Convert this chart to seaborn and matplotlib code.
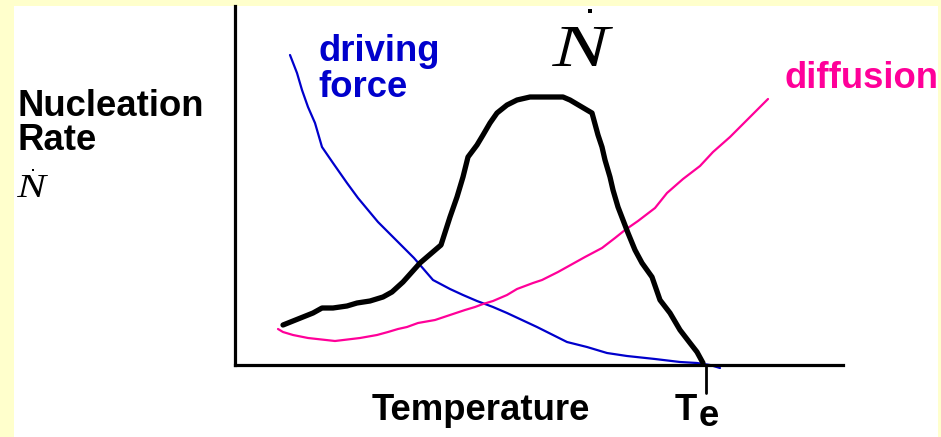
import numpy as np
import pandas as pd
import matplotlib
matplotlib.use("Agg")
import matplotlib.pyplot as plt
from matplotlib.patches import Rectangle, PathPatch
from matplotlib.textpath import TextPath
from matplotlib.font_manager import FontProperties
from matplotlib.transforms import Affine2D
import seaborn as sns

# Curves in arbitrary units (temperature on x, rate on y)
nucleation_T = [48, 58, 68, 78, 87, 98, 112, 122, 135, 148, 157, 168, 185, 206,
                215, 222, 228, 233, 242, 248, 255, 262, 272, 282, 295, 328, 335,
                357, 363, 367, 370, 375, 378, 383, 388, 393, 400, 407, 417, 425,
                435, 445, 455, 462, 468]
nucleation_rate = [40, 44, 48, 52, 57, 57, 59, 62, 64, 68, 73, 83, 102, 120,
                   148, 168, 188, 208, 220, 230, 242, 252, 260, 265, 268, 268, 265,
                   252, 230, 218, 205, 188, 175, 158, 145, 132, 115, 102, 88, 65,
                   52, 35, 22, 13, 2]

driving_T = [55, 62, 67, 73, 80, 87, 98, 112, 123, 143, 161, 179, 198, 215, 228,
             242, 258, 272, 287, 302, 318, 332, 352, 372, 392, 420, 445, 462, 475, 485]
driving_force = [310, 292, 275, 258, 242, 218, 202, 182, 167, 143, 125, 107, 85, 76, 70,
                 64, 58, 52, 45, 38, 30, 23, 18, 12, 9, 6, 3, 2, 0, -3]

diffusion_T = [43, 48, 58, 73, 100, 125, 142, 153, 163, 172, 183, 200, 215, 230, 240,
               248, 258, 272, 282, 298, 307, 323, 350, 367, 380, 390, 403, 420, 432,
               448, 465, 478, 495, 512, 533]
diffusion_rate = [36, 33, 30, 27, 24, 27, 30, 33, 36, 38, 42, 45, 50, 55, 58,
                  61, 64, 70, 76, 82, 85, 93, 108, 117, 127, 135, 144, 157, 172,
                  186, 199, 213, 228, 245, 266]

T_eq = 471

W, H = 941, 437
sns.set_style("white")
plt.rcParams["font.family"] = ["Liberation Sans", "DejaVu Sans"]

fig = plt.figure(figsize=(W / 100, H / 100), dpi=100, facecolor="#FFFFCC")
fig.patches.append(Rectangle((14 / W, 0), 924 / W, 431 / H, transform=fig.transFigure,
                             facecolor="white", edgecolor="none", zorder=-5))

ax = fig.add_axes([235 / W, (H - 365) / H, (843 - 235) / W, (365 - 6) / H])
ax.set_facecolor("none")
ax.set_zorder(2)
ax.set_xlim(0, 608)
ax.set_ylim(0, 359)

df_n = pd.DataFrame({"T": nucleation_T, "rate": nucleation_rate})
df_d = pd.DataFrame({"T": driving_T, "rate": driving_force})
df_f = pd.DataFrame({"T": diffusion_T, "rate": diffusion_rate})

sns.lineplot(data=df_d, x="T", y="rate", sort=False, estimator=None, ax=ax,
             color="#0000CC", linewidth=1.6, clip_on=False)
sns.lineplot(data=df_f, x="T", y="rate", sort=False, estimator=None, ax=ax,
             color="#FF0099", linewidth=1.6, clip_on=False)
sns.lineplot(data=df_n, x="T", y="rate", sort=False, estimator=None, ax=ax,
             color="black", linewidth=3.8, clip_on=False)

# Equilibrium temperature tick below the axis
ax.plot([T_eq, T_eq], [0, -28], color="black", linewidth=2, clip_on=False)

for side in ("top", "right"):
    ax.spines[side].set_visible(False)
for side in ("left", "bottom"):
    ax.spines[side].set_color("black")
    ax.spines[side].set_linewidth(2.3)
ax.set_xticks([])
ax.set_yticks([])
ax.set_xlabel("")
ax.set_ylabel("")


def put(x, y, s, **kw):
    fig.text(x / W, 1 - y / H, s, va="baseline", ha="left", **kw)


bold = dict(fontsize=26.3, fontweight="bold")
put(17, 116, "Nucleation", color="black", **bold)
put(17, 150, "Rate", color="black", **bold)
put(372, 420, "Temperature", color="black", **bold)
put(675, 420, "T", color="black", **bold)
put(699, 426, "e", color="black", **bold)
put(318, 61, "driving", color="#0000CC", **bold)
put(318, 97, "force", color="#0000CC", **bold)
put(785, 88, "diffusion", color="#FF0099", **bold)

# Wide italic serif N-dot symbols
serif_fp = FontProperties(family="Liberation Serif", style="italic")


def wide_n(x, y, cap_px, width_px):
    tp = TextPath((0, 0), "N", size=100, prop=serif_fp)
    ext = tp.get_extents()
    sx = width_px / ext.width
    sy = cap_px / ext.height
    tr = (Affine2D().translate(-ext.x0, 0).scale(sx, sy)
          .translate(x, H - y))
    fig.patches.append(PathPatch(tr.transform_path(tp), facecolor="black",
                                 edgecolor="none", transform=None, zorder=3))


def dot(x, y, size_px):
    fig.patches.append(Rectangle(((x - size_px / 2) / W, 1 - (y + size_px / 2) / H),
                                 size_px / W, size_px / H, transform=fig.transFigure,
                                 facecolor="black", edgecolor="none", zorder=3))


wide_n(17, 197, 22, 31)
dot(33, 170, 2.5)
wide_n(552, 66, 39, 61)
dot(590, 11, 3.5)

fig.savefig("out.png", dpi=100, facecolor=fig.get_facecolor())
